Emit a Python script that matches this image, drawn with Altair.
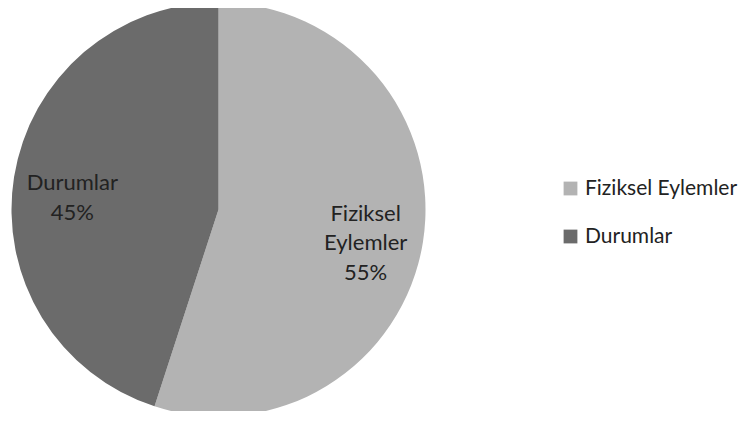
import altair as alt
import pandas as pd

categories = ["Fiziksel Eylemler", "Durumlar"]
values = [55, 45]
labels = [["Fiziksel", "Eylemler", "55%"], ["Durumlar", "45%"]]
colors = ["#b3b3b3", "#6b6b6b"]

df = pd.DataFrame({"category": categories, "value": values, "label": labels,
                   "order": [0, 1]})
total = sum(values)

color_scale = alt.Scale(domain=categories, range=colors)
theta_scale = alt.Scale(domain=[0, total])

pie = alt.Chart(df).mark_arc(outerRadius=207, strokeWidth=0).encode(
    theta=alt.Theta("value:Q", stack=True, scale=theta_scale),
    order=alt.Order("order:Q"),
    color=alt.Color(
        "category:N", scale=color_scale, sort=categories,
        legend=alt.Legend(
            title=None, orient="none", legendX=552, legendY=170,
            symbolType="square", symbolSize=190, symbolStrokeWidth=0,
            labelFont="Lato", labelFontSize=21, labelColor="#222222",
            rowPadding=26, symbolOffset=0, labelOffset=4,
            labelLimit=200,
        ),
    ),
)

text_base = alt.Chart(df).transform_window(
    cum="sum(value)", sort=[alt.SortField("order")]
).transform_calculate(mid="datum.cum - datum.value / 2").encode(
    theta=alt.Theta("mid:Q", stack=None, scale=theta_scale),
    text="label",
)

text_style = dict(font="Lato", fontSize=22, color="#222222",
                  lineHeight=29.5, align="center", baseline="middle")

t1 = text_base.mark_text(radius=149, dy=-19, **text_style).transform_filter(
    alt.datum.category == categories[0])
t2 = text_base.mark_text(radius=148, dy=-3, **text_style).transform_filter(
    alt.datum.category == categories[1])

chart = alt.layer(pie, t1, t2).properties(
    width=421, height=403,
    autosize=alt.AutoSizeParams(type="none"),
    padding={"left": 0, "top": 0, "right": 314, "bottom": 0},
).configure_view(stroke=None).configure(background="#ffffff")

chart.save("out.html", embed_options={"renderer": "svg", "actions": False})
